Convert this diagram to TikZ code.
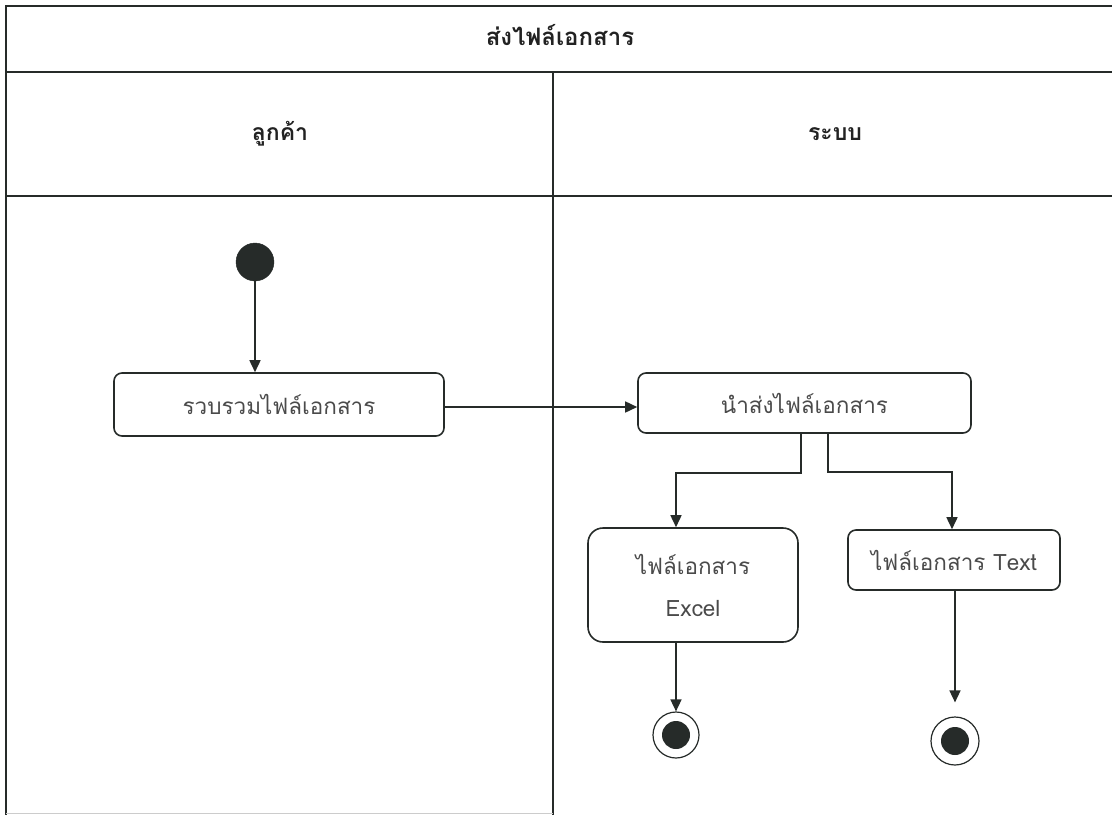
\documentclass[tikz,border=0pt]{standalone}
\usepackage{fontspec}
\newfontfamily\thaifont[Script=Thai]{Loma}
\usetikzlibrary{arrows.meta,calc}
\definecolor{linec}{HTML}{262B29}
\definecolor{textc}{HTML}{4A4A4A}
\definecolor{headc}{HTML}{222222}
\begin{document}
\begin{tikzpicture}[x=1pt,y=-1pt,
  frame/.style={draw=linec, line width=1.6pt},
  head/.style={font=\thaifont\bfseries\fontsize{23}{27}\selectfont, text=headc},
  act/.style={draw=linec, line width=1.6pt, rounded corners=8pt, inner sep=0pt,
    font=\thaifont\fontsize{22.5}{26}\selectfont, text=textc, align=center},
  flow/.style={draw=linec, line width=1.6pt, -{Triangle[length=12pt,width=11pt]}},
  startstate/.style={circle, fill=linec, draw=linec, minimum size=38pt, inner sep=0pt},
  endstate/.style={circle, draw=linec, line width=1.2pt, fill=white, minimum size=#1, inner sep=0pt,
    path picture={\fill[linec] (path picture bounding box.center) circle (14pt);}},
]
\useasboundingbox (0,0) rectangle (1112,815);

% swimlane frame
\draw[frame] (1112,6) -- (6,6) -- (6,815);
\draw[frame] (6,72) -- (1112,72);
\draw[frame] (6,196) -- (1112,196);
\draw[frame] (553,72) -- (553,815);
\draw[gray!40, line width=1pt] (6,813.5) -- (553,813.5);

% titles
\node[head, font=\thaifont\bfseries\fontsize{24}{28}\selectfont] (title) at (560,35) {ส่งไฟล์เอกสาร};
\node[head] (laneA) at (280,134) {ลูกค้า};
\node[head] (laneB) at (835,134) {ระบบ};

% states and activities
\node[startstate] (start) at (255,262) {};
\node[act, minimum width=330pt, minimum height=63pt] (collect) at (279,404.5) {รวบรวมไฟล์เอกสาร};
\node[act, minimum width=333pt, minimum height=60pt] (send) at (804.5,403) {นำส่งไฟล์เอกสาร};
\node[act, rounded corners=15pt, minimum width=210pt, minimum height=114pt] (excel) at (693,585)
  {ไฟล์เอกสาร\\[16pt]Excel};
\node[act, minimum width=212pt, minimum height=60pt] (text) at (954,560) {ไฟล์เอกสาร Text};
\node[endstate=46pt] (end1) at (676,735) {};
\node[endstate=48pt] (end2) at (955,741) {};

% flows
\draw[flow] (start) -- (start |- collect.north);
\draw[flow] (collect.east |- 0,407) -- (send.west |- 0,407);
\draw[flow] ($(send.south)+(-3.5,0)$) -- ++(0,39) -| ($(excel.north)+(-17,0)$);
\draw[flow] ($(send.south)+(23.5,0)$) -- ++(0,38) -| ($(text.north)+(-2,0)$);
\draw[flow] ($(excel.south)+(-17,0)$) -- (end1);
\draw[flow, shorten >=14pt] (text.south -| end2) -- (end2);
\end{tikzpicture}
\end{document}
